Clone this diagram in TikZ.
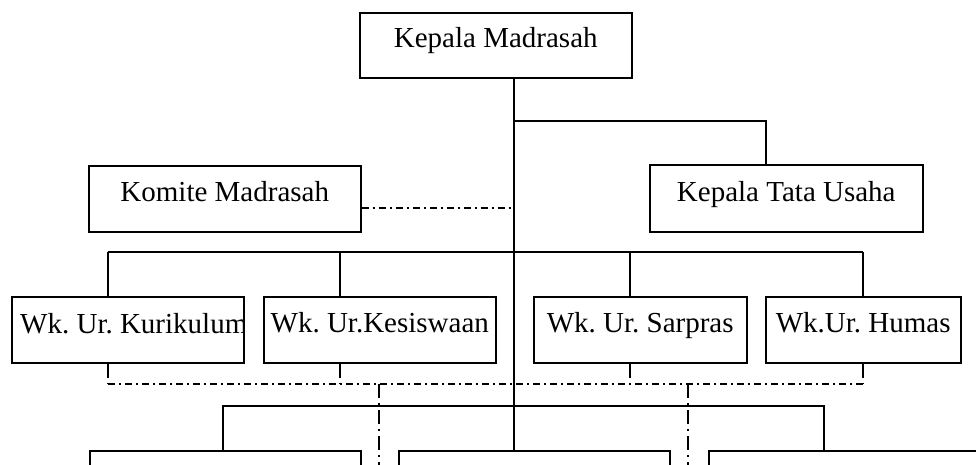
\documentclass[tikz,border=0pt]{standalone}
\usepackage{fontspec}
\setmainfont{Liberation Serif}
\frenchspacing
\begin{document}
\begin{tikzpicture}[x=1pt,y=-1pt,
  box/.style={draw, line width=1.5pt, inner xsep=0pt, inner ysep=0pt, anchor=north west,
    text height=36pt, text depth=30pt, font=\fontsize{29}{34}\selectfont\frenchspacing},
  link/.style={line width=1.3pt},
  ddh/.style={line width=1.1pt, dash pattern=on 7pt off 4pt on 2pt off 4pt},
  ddv/.style={line width=1.1pt, dash pattern=on 14pt off 5pt on 2pt off 5pt}]
\useasboundingbox (0,0) rectangle (976,464);
\clip (0,0) rectangle (976,464);
% boxes
\node[box, minimum width=272pt, text height=35pt] (km) at (359,12) {Kepala Madrasah};
\node[box, minimum width=272pt] (kom) at (88,165) {Komite Madrasah};
\node[box, minimum width=273pt, text height=37pt] (ktu) at (649,164) {Kepala Tata Usaha};
\node[box, minimum width=232pt] (w1) at (11,296) {};
\node[box, minimum width=232pt] (w2) at (263,296) {Wk. Ur.Kesiswaan};
\node[box, minimum width=213pt] (w3) at (533,296) {Wk. Ur. Sarpras};
\node[box, minimum width=195pt] (w4) at (765,296) {Wk.Ur. Humas};
\node[box, minimum width=271pt] (ba) at (89,450) {};
\node[box, minimum width=271pt] (bb) at (398,450) {};
\node[box, minimum width=300pt] (bc) at (708,450) {};
\begin{scope}
  \clip (w1.south west) rectangle (w1.north east);
  \node[anchor=base west, inner sep=0pt, font=\fontsize{29}{34}\selectfont\frenchspacing] (w1t) at (20,333) {Wk. Ur. Kurikulum};
\end{scope}
% coordinates
\coordinate (t1) at (514,121);
\coordinate (t2) at (514,208);
\coordinate (xk) at (766,0);
\coordinate (d1) at (108,252);
\coordinate (d2) at (340,252);
\coordinate (d3) at (630,252);
\coordinate (d4) at (863,252);
\coordinate (e1) at (108,384);
\coordinate (e2) at (340,384);
\coordinate (e3) at (630,384);
\coordinate (e4) at (863,384);
\coordinate (v1) at (379,384);
\coordinate (v2) at (688,384);
\coordinate (v1e) at (379,470);
\coordinate (v2e) at (688,470);
\coordinate (s1) at (223,406);
\coordinate (s2) at (824,406);
% solid connectors
\draw[link] (km.south -| t1) -- (bb.north -| t1);
\draw[link] (t1) -| (ktu.north -| xk);
\draw[link] (d1) -- (d4);
\draw[link] (d1) -- (w1.north -| d1);
\draw[link] (d2) -- (w2.north -| d2);
\draw[link] (d3) -- (w3.north -| d3);
\draw[link] (d4) -- (w4.north -| d4);
\draw[link] (ba.north -| s1) -- (s1) -- (s2) -- (bc.north -| s2);
% dash-dot connectors
\draw[ddh] (kom.east |- t2) -- (t2);
\draw[ddh] (e1) -- (e4);
\draw[ddv] (w1.south -| e1) -- (e1);
\draw[ddv] (w2.south -| e2) -- (e2);
\draw[ddv] (w3.south -| e3) -- (e3);
\draw[ddv] (w4.south -| e4) -- (e4);
\draw[ddv] (v1) -- (v1e);
\draw[ddv] (v2) -- (v2e);
\end{tikzpicture}
\end{document}
